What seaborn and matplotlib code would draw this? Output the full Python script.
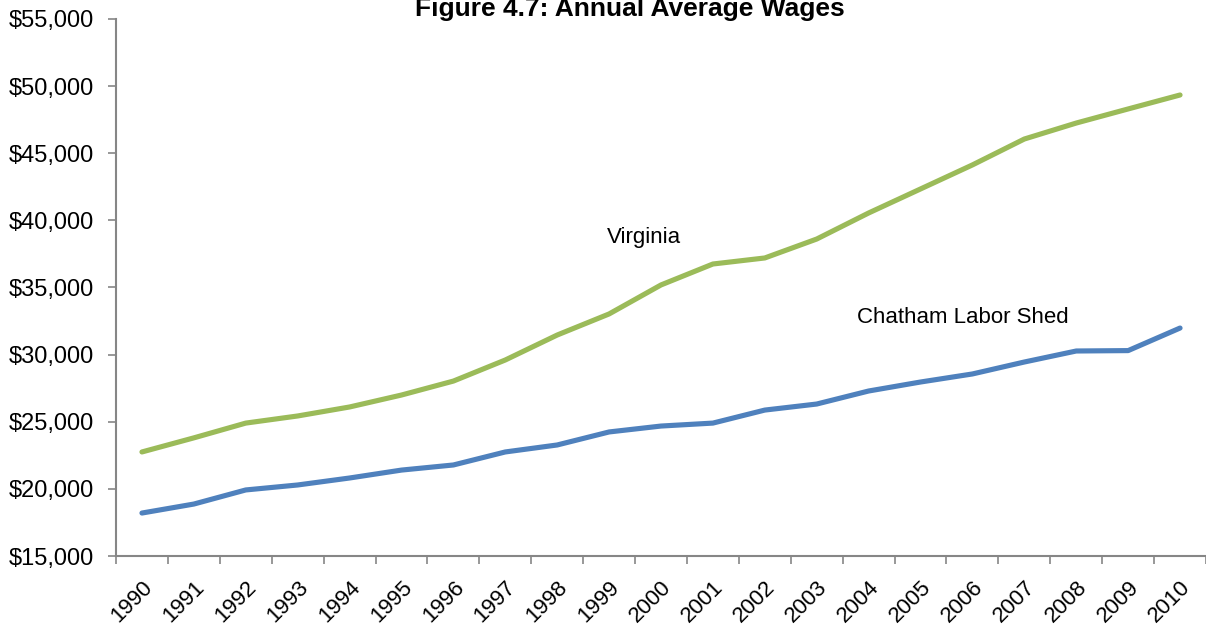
#!/usr/bin/env python3
'''
Annual average wages, Virginia vs Chatham Labor Shed, 1990-2010.
'''
import matplotlib
matplotlib.use('Agg')
import matplotlib.pyplot as plt
from matplotlib.ticker import FuncFormatter, FixedLocator
import seaborn as sns
import pandas as pd

years = [str(y) for y in range(1990, 2011)]
virginia = [22750, 23800, 24900, 25430, 26100, 26990, 28030, 29600, 31460,
            33030, 35190, 36750, 37200, 38610, 40550, 42340, 44130, 46060,
            47250, 48300, 49340]
chatham = [18200, 18870, 19920, 20290, 20810, 21400, 21780, 22750, 23270,
           24240, 24680, 24900, 25870, 26320, 27290, 27960, 28560, 29450,
           30270, 30300, 31980]

GREEN = '#9BBB59'
BLUE = '#4F81BD'
AXIS_GREY = '#868686'

sns.set_style('white')
plt.rcParams['font.family'] = ['Liberation Sans', 'DejaVu Sans']
plt.rcParams['text.color'] = 'black'
plt.rcParams['xtick.labelcolor'] = 'black'
plt.rcParams['ytick.labelcolor'] = 'black'

df = pd.DataFrame({
    'idx': list(range(len(years))) * 2,
    'wage': virginia + chatham,
    'series': ['Virginia'] * len(years) + ['Chatham Labor Shed'] * len(years),
})

fig = plt.figure(figsize=(12.06, 6.25), dpi=100)
ax = fig.add_axes([116 / 1206, 69 / 625, 1090 / 1206, 537 / 625])

sns.lineplot(data=df, x='idx', y='wage', hue='series',
             palette={'Virginia': GREEN, 'Chatham Labor Shed': BLUE},
             linewidth=3.7, legend=False, ax=ax, solid_capstyle='round')

ax.set_xlim(-0.5, len(years) - 0.5)
ax.set_ylim(15000, 55000)
ax.set_yticks(range(15000, 55001, 5000))
ax.yaxis.set_major_formatter(FuncFormatter(lambda v, _: f'${v:,.0f}'))

ax.set_xticks(range(len(years)))
ax.set_xticklabels(years, rotation=45, ha='right', rotation_mode='anchor')
ax.xaxis.set_minor_locator(FixedLocator([i - 0.5 for i in range(len(years) + 1)]))
ax.tick_params(axis='x', which='major', length=0, pad=15, labelsize=16)
ax.tick_params(axis='x', which='minor', length=6, width=1.2,
               color=AXIS_GREY, bottom=True)
ax.tick_params(axis='y', length=6, width=1.2, color=AXIS_GREY,
               labelsize=17, left=True, pad=10)

ax.set_xlabel('')
ax.set_ylabel('')
sns.despine(ax=ax)
for side in ('left', 'bottom'):
    ax.spines[side].set_color(AXIS_GREY)
    ax.spines[side].set_linewidth(1.5)

ax.text(8.96, 38760, 'Virginia', fontsize=16, va='center', ha='left')
ax.text(13.78, 32730, 'Chatham Labor Shed', fontsize=16, va='center', ha='left')

fig.text(0.5225, 1 - 16 / 625, 'Figure 4.7: Annual Average Wages',
         fontsize=19, fontweight='bold', ha='center', va='baseline')

fig.savefig('out.png', dpi=100)
